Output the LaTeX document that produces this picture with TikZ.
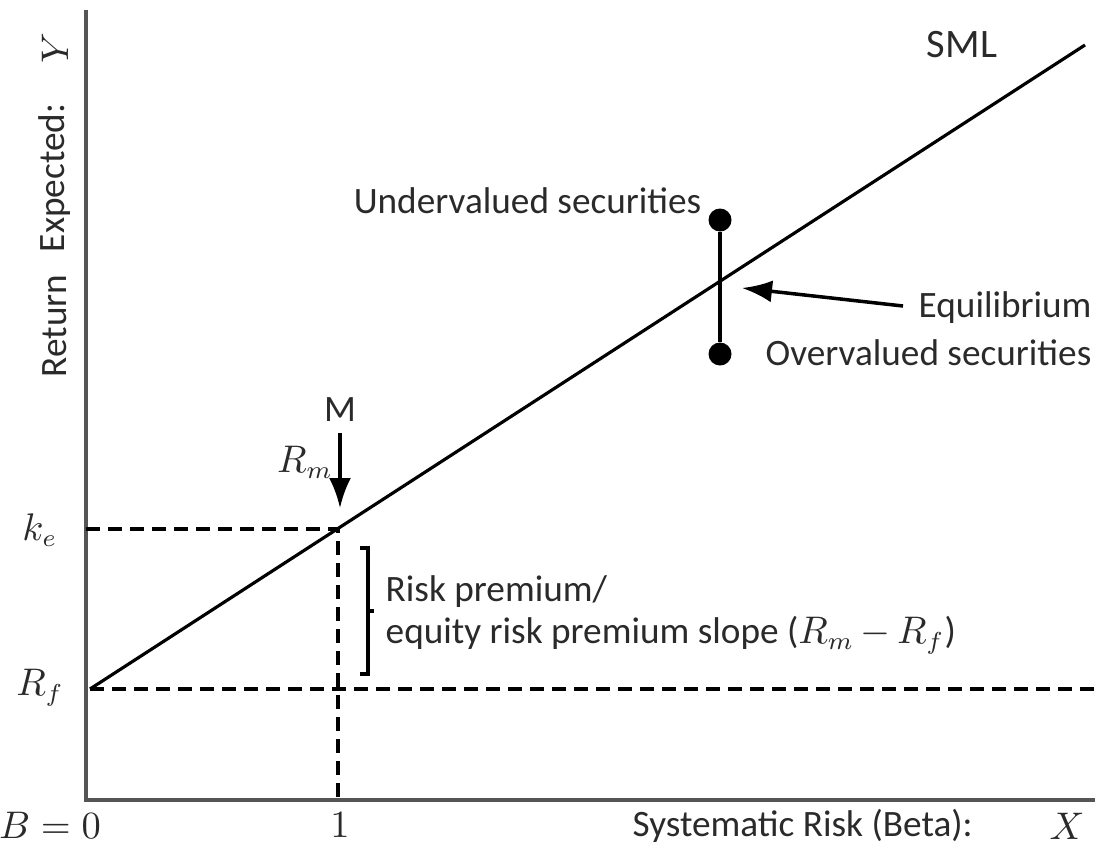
\documentclass[tikz,border=0pt]{standalone}
\usepackage{fontspec}
\setmainfont{Carlito}
\usetikzlibrary{arrows.meta}
\definecolor{axisgray}{HTML}{555555}
\definecolor{textgray}{HTML}{2A2A2A}
\tikzset{
  lbl/.style={font=\fontsize{10.6}{12.5}\selectfont, text=textgray, inner sep=0pt},
  guide/.style={dash pattern=on 1.4mm off 0.8mm, line width=1.1pt},
  secdot/.style={circle, fill=black, inner sep=0pt, minimum size=2.3mm}
}
\begin{document}
\begin{tikzpicture}[>=Latex]
\useasboundingbox (0,0) rectangle (10.95,8.45);
% axes
\coordinate (O) at (0.86,0.45);
\coordinate (ytop) at (0.86,8.35);
\coordinate (xend) at (10.95,0.45);
\draw[axisgray, line width=1pt] (ytop)--(O)--(xend);
% guides
\coordinate (rf) at (0.90,1.56);
\coordinate (rfend) at (10.95,1.56);
\coordinate (ke) at (0.86,3.16);
\coordinate (rm) at (3.38,3.16);
\coordinate (one) at (3.38,0.45);
\draw[guide] (rf)--(rfend);
\draw[guide] (ke)--(rm)--(one);
% SML
\coordinate (smlend) at (10.85,8.00);
\draw[line width=0.9pt] (rf)--(smlend);
\node[lbl, font=\fontsize{11.5}{13}\selectfont] (sml) at (9.62,8.00) {SML};
% securities
\node[secdot] (under) at (7.20,6.25) {};
\node[secdot] (over) at (7.20,4.91) {};
\draw[line width=1.1pt] (under)--(over);
\node[lbl, anchor=east] (undertxt) at (7.02,6.44) {Undervalued securities};
\node[lbl, anchor=west] (overtxt) at (7.65,4.92) {Overvalued securities};
\node[lbl, anchor=west] (eqtxt) at (9.18,5.37) {Equilibrium};
\draw[->, line width=1pt, >={Latex[length=3mm,width=2.2mm]}] (eqtxt.west)++(-0.15,0.02) coordinate (eqtail) -- (7.42,5.57);
% market
\node[lbl] (m) at (3.40,4.35) {M};
\coordinate (mtip) at (3.40,3.37);
\draw[->, line width=1pt, >={Latex[length=3mm,width=2.2mm]}] (m.south)++(0,-0.1) -- (mtip);
\node[lbl] (rmtxt) at (3.05,3.83) {$R_m$};
% y labels
\node[lbl] (ketxt) at (0.40,3.15) {$k_e$};
\node[lbl] (rftxt) at (0.40,1.57) {$R_f$};
% premium bracket
\draw[line width=0.9pt] (3.60,2.97)--(3.68,2.97)--(3.68,1.71)--(3.60,1.71);
\draw[line width=0.9pt] (3.68,2.34)--(3.74,2.34);
\node[lbl, anchor=west] (rp1) at (3.85,2.53) {Risk premium/};
\node[lbl, anchor=west] (rp2) at (3.85,2.10) {equity risk premium slope ($R_m\,{-}\,R_f$)};
% x labels
\node[lbl] (b0) at (0.50,0.20) {$B=0$};
\node[lbl] (onetxt) at (3.40,0.20) {$1$};
\node[lbl, anchor=west] (xtxt) at (6.32,0.19) {Systematic Risk (Beta):};
\node[lbl] (xvar) at (10.67,0.19) {$X$};
% y axis title
\node[lbl, rotate=90] (ret) at (0.55,5.19) {Return};
\node[lbl, rotate=90] (exp) at (0.55,6.67) {Expected:};
\node[lbl, rotate=90] (yvar) at (0.55,7.97) {$Y$};
\end{tikzpicture}
\end{document}
